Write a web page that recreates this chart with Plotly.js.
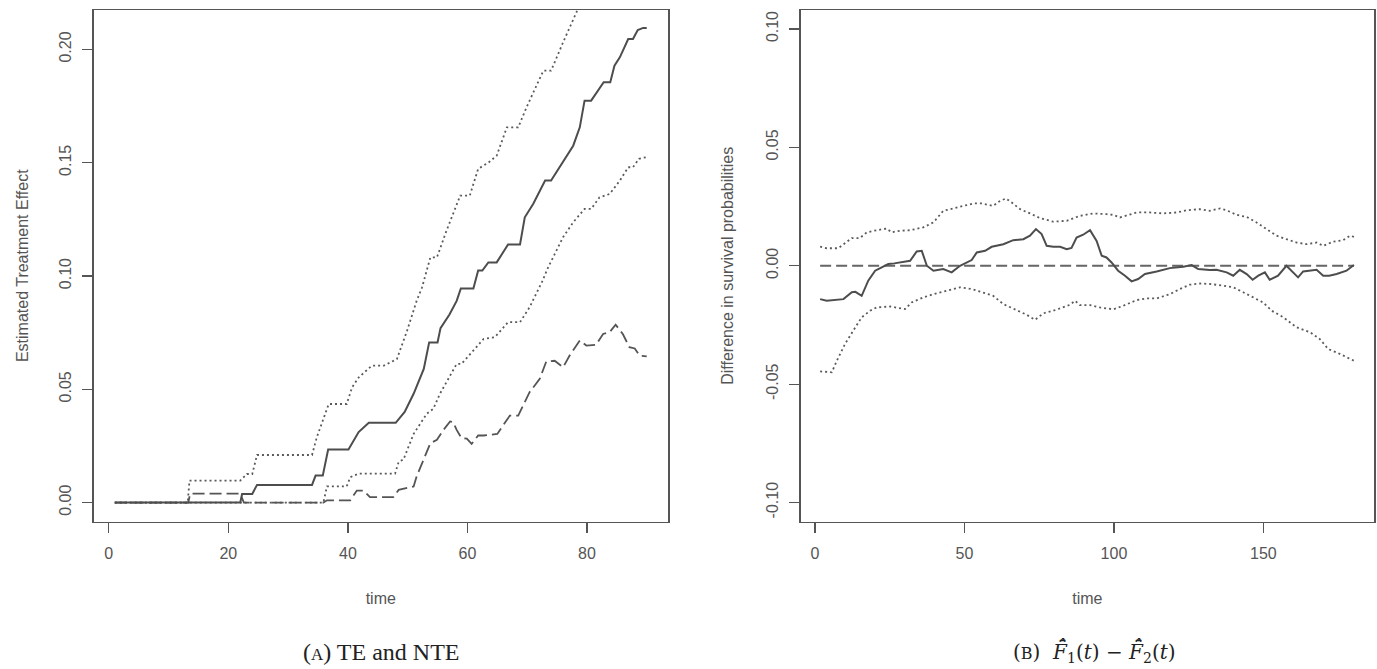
<!DOCTYPE html>
<html>
<head>
<meta charset="utf-8">
<script src="https://cdn.plot.ly/plotly-3.0.1.min.js"></script>
<style>html,body{margin:0;padding:0;background:#fff;}#chart{width:1377px;height:669px;}</style>
</head>
<body>
<div id="chart"></div>
<script>
// ---------- Panel A: TE and NTE ----------
const teTime = [1,22.0,22.3,24.0,24.8,34.0,34.6,35.8,36.7,40.1,41.8,43.5,48.0,49.5,51.0,52.7,53.6,55.0,55.5,57.0,58.2,58.9,61.0,61.8,62.5,63.5,64.9,66.8,68.8,69.6,71.0,73.0,74.0,75.4,77.7,78.8,79.6,80.7,82.1,82.8,83.9,84.6,85.5,86.9,87.7,88.5,89.4,90];
const teEst  = [0,0,0.0038,0.0038,0.0078,0.0078,0.0119,0.0119,0.0234,0.0234,0.0311,0.0352,0.0352,0.0400,0.0480,0.0590,0.0707,0.0707,0.0770,0.0830,0.0890,0.0945,0.0945,0.1024,0.1024,0.1060,0.1060,0.1139,0.1139,0.1259,0.1318,0.1421,0.1421,0.1480,0.1575,0.1656,0.1774,0.1774,0.1826,0.1855,0.1855,0.1928,0.1965,0.2046,0.2046,0.2086,0.2095,0.2095];

const teUpTime = [1,13.2,13.5,22.0,23.1,24.0,24.8,34.0,34.8,36.8,39.8,40.7,41.8,44.0,46.0,48.2,49.9,51.5,52.4,53.8,54.9,56.5,58.8,60.4,61.8,63.5,64.9,66.6,68.5,69.9,72.7,74.0,76.0,77.7,78.6,80,82,84,86,88,90];
const teUp     = [0,0,0.0097,0.0097,0.0126,0.0126,0.0210,0.0210,0.0288,0.0435,0.0435,0.0508,0.0552,0.0604,0.0604,0.0633,0.0758,0.0890,0.0949,0.1082,0.1082,0.1200,0.1355,0.1355,0.1473,0.1500,0.1531,0.1656,0.1656,0.1745,0.1906,0.1906,0.2031,0.2127,0.2185,0.2250,0.2330,0.2420,0.2500,0.2580,0.2650];

const teLoTime = [1,35.9,36.5,39.8,40.4,41.8,47.9,48.5,49.3,51.0,53.2,54.3,55.4,58.2,59.0,61.5,62.7,64.6,66.8,68.8,70.4,72.5,73.5,76.0,77.7,79.6,80.7,82.1,83.8,85.5,86.9,87.7,88.7,90];
const teLo     = [0,0,0.0071,0.0071,0.0112,0.0128,0.0128,0.0180,0.0190,0.0303,0.0392,0.0414,0.0480,0.0612,0.0612,0.0686,0.0722,0.0730,0.0796,0.0796,0.0862,0.0975,0.1038,0.1171,0.1237,0.1296,0.1296,0.1347,0.1362,0.1421,0.1480,0.1480,0.1517,0.1525];

const nteTime = [1,13.3,13.6,22.0,22.6,35.9,36.5,40.4,41.5,42.6,43.7,47.6,48.5,49.3,51.0,51.5,53.8,54.9,56.0,57.1,57.6,58.2,59.0,59.9,60.7,61.8,62.7,65.0,67.1,68.5,70.4,72.1,73.2,74.6,76.0,77.1,78.8,79.9,81.5,82.7,83.8,84.8,86.0,87.1,88.0,88.8,90];
const nteEst  = [0,0,0.0039,0.0039,0,0,0.0010,0.0010,0.0053,0.0053,0.0024,0.0024,0.0056,0.0060,0.0071,0.0115,0.0262,0.0277,0.0321,0.0358,0.0355,0.0321,0.0285,0.0282,0.0259,0.0296,0.0296,0.0303,0.0384,0.0384,0.0487,0.0546,0.0623,0.0626,0.0597,0.0649,0.0715,0.0693,0.0696,0.0744,0.0752,0.0785,0.0744,0.0686,0.0680,0.0649,0.0645];

const aXTicks = [0,20,40,60,80];
const aYTicks = [0,0.05,0.10,0.15,0.20];
const aYLabels = ["0.00","0.05","0.10","0.15","0.20"];

// ---------- Panel B: difference in survival probabilities ----------
const dTime = [1.7,3.9,9.5,12.3,13.5,15.6,17.8,20.1,22.3,24.5,26.5,29.5,31.8,34.0,35.7,37.4,39.6,42.9,45.7,48.5,52.4,54.1,56.9,59.1,63.0,66.3,69.7,71.9,73.9,75.8,77.5,79.7,82.0,84.2,85.8,87.5,89.7,92.0,94.2,95.9,97.5,99.2,101.4,103.7,105.9,108.1,110.4,114.3,118.7,123.2,126.0,128.2,132.1,134.3,137.7,139.9,142.1,144.4,146.4,148.3,150.5,152.1,154.9,157.7,159.9,161.6,163.3,167.8,170.0,172.0,174.5,177.8,179.5,180.3];
const dEst  = [-0.0141,-0.0148,-0.0141,-0.0112,-0.0110,-0.0127,-0.0063,-0.0021,-0.0007,0.0007,0.0010,0.0018,0.0021,0.0060,0.0063,0.0000,-0.0021,-0.0014,-0.0028,0.0000,0.0024,0.0056,0.0063,0.0080,0.0091,0.0108,0.0112,0.0127,0.0155,0.0134,0.0084,0.0080,0.0080,0.0070,0.0075,0.0119,0.0131,0.0150,0.0105,0.0042,0.0035,0.0014,-0.0021,-0.0042,-0.0066,-0.0056,-0.0035,-0.0024,-0.0010,-0.0004,0.0003,-0.0014,-0.0018,-0.0017,-0.0028,-0.0042,-0.0017,-0.0035,-0.0059,-0.0042,-0.0028,-0.0059,-0.0042,0.0000,-0.0028,-0.0049,-0.0024,-0.0017,-0.0042,-0.0042,-0.0035,-0.0021,-0.0004,0.0003];

const dUpTime = [1.7,3.9,7.8,9.5,12.3,15.0,17.3,20.6,24.0,25.6,28.4,31.8,36.2,39.6,42.9,46.3,49.6,52.9,55.7,59.6,61.9,63.9,65.8,68.6,71.9,75.3,79.7,84.2,88.4,93.1,97.5,99.8,102.0,104.8,107.6,112.0,116.5,121.0,124.3,128.8,132.1,135.5,137.7,141.0,144.4,147.7,151.1,154.4,157.7,161.1,164.4,167.8,170.0,173.4,176.7,179.0,180.3];
const dUp     = [0.0081,0.0074,0.0074,0.0091,0.0117,0.0117,0.0141,0.0150,0.0157,0.0141,0.0148,0.0150,0.0162,0.0183,0.0232,0.0242,0.0253,0.0263,0.0263,0.0253,0.0274,0.0284,0.0267,0.0239,0.0221,0.0201,0.0186,0.0190,0.0210,0.0221,0.0218,0.0215,0.0204,0.0215,0.0225,0.0225,0.0221,0.0225,0.0234,0.0239,0.0232,0.0242,0.0234,0.0215,0.0206,0.0183,0.0155,0.0127,0.0112,0.0098,0.0091,0.0098,0.0084,0.0102,0.0108,0.0127,0.0122];

const dLoTime = [1.7,5.6,7.3,10.0,12.8,15.6,18.4,20.6,25.1,27.3,30.1,32.3,36.2,39.6,44.0,48.5,52.4,56.3,59.6,63.0,67.5,70.8,73.6,76.4,79.7,83.1,85.3,87.0,88.6,92.0,95.3,99.8,103.1,107.6,110.9,114.3,118.7,122.1,125.4,128.8,132.1,136.6,139.9,143.2,146.6,149.9,152.8,156.7,161.1,165.6,168.9,171.7,174.5,176.7,180.3];
const dLo     = [-0.0446,-0.0450,-0.0401,-0.0331,-0.0274,-0.0218,-0.0190,-0.0176,-0.0172,-0.0176,-0.0183,-0.0155,-0.0134,-0.0120,-0.0105,-0.0091,-0.0098,-0.0112,-0.0127,-0.0162,-0.0190,-0.0207,-0.0228,-0.0201,-0.0190,-0.0176,-0.0165,-0.0148,-0.0166,-0.0166,-0.0176,-0.0184,-0.0169,-0.0145,-0.0138,-0.0138,-0.0120,-0.0098,-0.0080,-0.0075,-0.0077,-0.0084,-0.0091,-0.0112,-0.0134,-0.0155,-0.0190,-0.0218,-0.0260,-0.0281,-0.0310,-0.0352,-0.0366,-0.0380,-0.0401];

const refTime = [1.7,180.3];
const refVal  = [0,0];

const bXTicks = [0,50,100,150];
const bYTicks = [-0.10,-0.05,0,0.05,0.10];
const bYLabels = ["-0.10","-0.05","0.00","0.05","0.10"];

// ---------- styles ----------
const ink = '#4d4d4d';
const dotStyle = {color:'#5a5a5a', width:1.8, dash:'2px,3px'};
const tickFont = {family:'Liberation Sans, Arial, sans-serif', size:16, color:'#555'};
const titleFont = {family:'Liberation Sans, Arial, sans-serif', size:16, color:'#555'};

const traces = [
  {x:teUpTime, y:teUp, xaxis:'x', yaxis:'y', mode:'lines', line:dotStyle},
  {x:teLoTime, y:teLo, xaxis:'x', yaxis:'y', mode:'lines', line:dotStyle},
  {x:nteTime, y:nteEst, xaxis:'x', yaxis:'y', mode:'lines', line:{color:'#555', width:1.8, dash:'12px,5px'}},
  {x:teTime, y:teEst, xaxis:'x', yaxis:'y', mode:'lines', line:{color:ink, width:2}},
  {x:dUpTime, y:dUp, xaxis:'x2', yaxis:'y2', mode:'lines', line:dotStyle},
  {x:dLoTime, y:dLo, xaxis:'x2', yaxis:'y2', mode:'lines', line:dotStyle},
  {x:refTime, y:refVal, xaxis:'x2', yaxis:'y2', mode:'lines', line:{color:'#666', width:2, dash:'11px,5px'}},
  {x:dTime, y:dEst, xaxis:'x2', yaxis:'y2', mode:'lines', line:{color:ink, width:2}}
];

function xAx(domain, range, ticks, anchor){
  return {domain:domain, range:range, anchor:anchor, tickmode:'array', tickvals:ticks,
    showline:true, mirror:true, linecolor:'#555', linewidth:1.5,
    ticks:'outside', ticklen:10, tickwidth:1.3, tickcolor:'#555',
    showgrid:false, zeroline:false, tickfont:tickFont, ticklabelstandoff:7,
    title:{text:'time', font:titleFont, standoff:31}, automargin:false, fixedrange:true};
}
function yAx(domain, range, ticks, labels, anchor, title, standoff){
  return {domain:domain, range:range, anchor:anchor, tickmode:'array', tickvals:ticks, ticktext:labels,
    tickangle:-90, showline:true, mirror:true, linecolor:'#555', linewidth:1.5,
    ticks:'outside', ticklen:10, tickwidth:1.3, tickcolor:'#555',
    showgrid:false, zeroline:false, tickfont:tickFont, ticklabelstandoff:5,
    title:{text:title, font:titleFont, standoff:standoff}, automargin:false, fixedrange:true};
}

const yDom = [(669-521.5)/669, (669-10)/669];
const layout = {
  width:1377, height:669, margin:{l:0,r:0,t:0,b:0},
  paper_bgcolor:'#fff', plot_bgcolor:'#fff', showlegend:false,
  xaxis: xAx([93.5/1377, 668/1377], [-2.56, 93.56], aXTicks, 'y'),
  yaxis: yAx(yDom, [-0.00836, 0.2174], aYTicks, aYLabels, 'x', 'Estimated Treatment Effect', 24),
  xaxis2: xAx([800.7/1377, 1374/1377], [-4.8, 187], bXTicks, 'y2'),
  yaxis2: yAx(yDom, [-0.108, 0.108], bYTicks, bYLabels, 'x2', 'Difference in survival probabilities', 26),
  annotations:[
    {xref:'paper', yref:'paper', x:380.5/1377, y:(669-652)/669, xanchor:'center', yanchor:'middle', showarrow:false,
     text:"(<span style='font-size:17px'>A</span>) TE and NTE",
     font:{family:'Liberation Serif, Times New Roman, serif', size:24, color:'#222'}},
    {xref:'paper', yref:'paper', x:1094/1377, y:(669-652)/669, xanchor:'center', yanchor:'middle', showarrow:false,
     text:"(<span style='font-size:16px'>B</span>)  <i>F\u0304\u0302</i><sub>1</sub>(<i>t</i>) \u2212 <i>F\u0304\u0302</i><sub>2</sub>(<i>t</i>)",
     font:{family:'DejaVu Serif, Liberation Serif, serif', size:20, color:'#222'}}
  ]
};

Plotly.newPlot('chart', traces, layout, {staticPlot:true, displayModeBar:false});
</script>
</body>
</html>
